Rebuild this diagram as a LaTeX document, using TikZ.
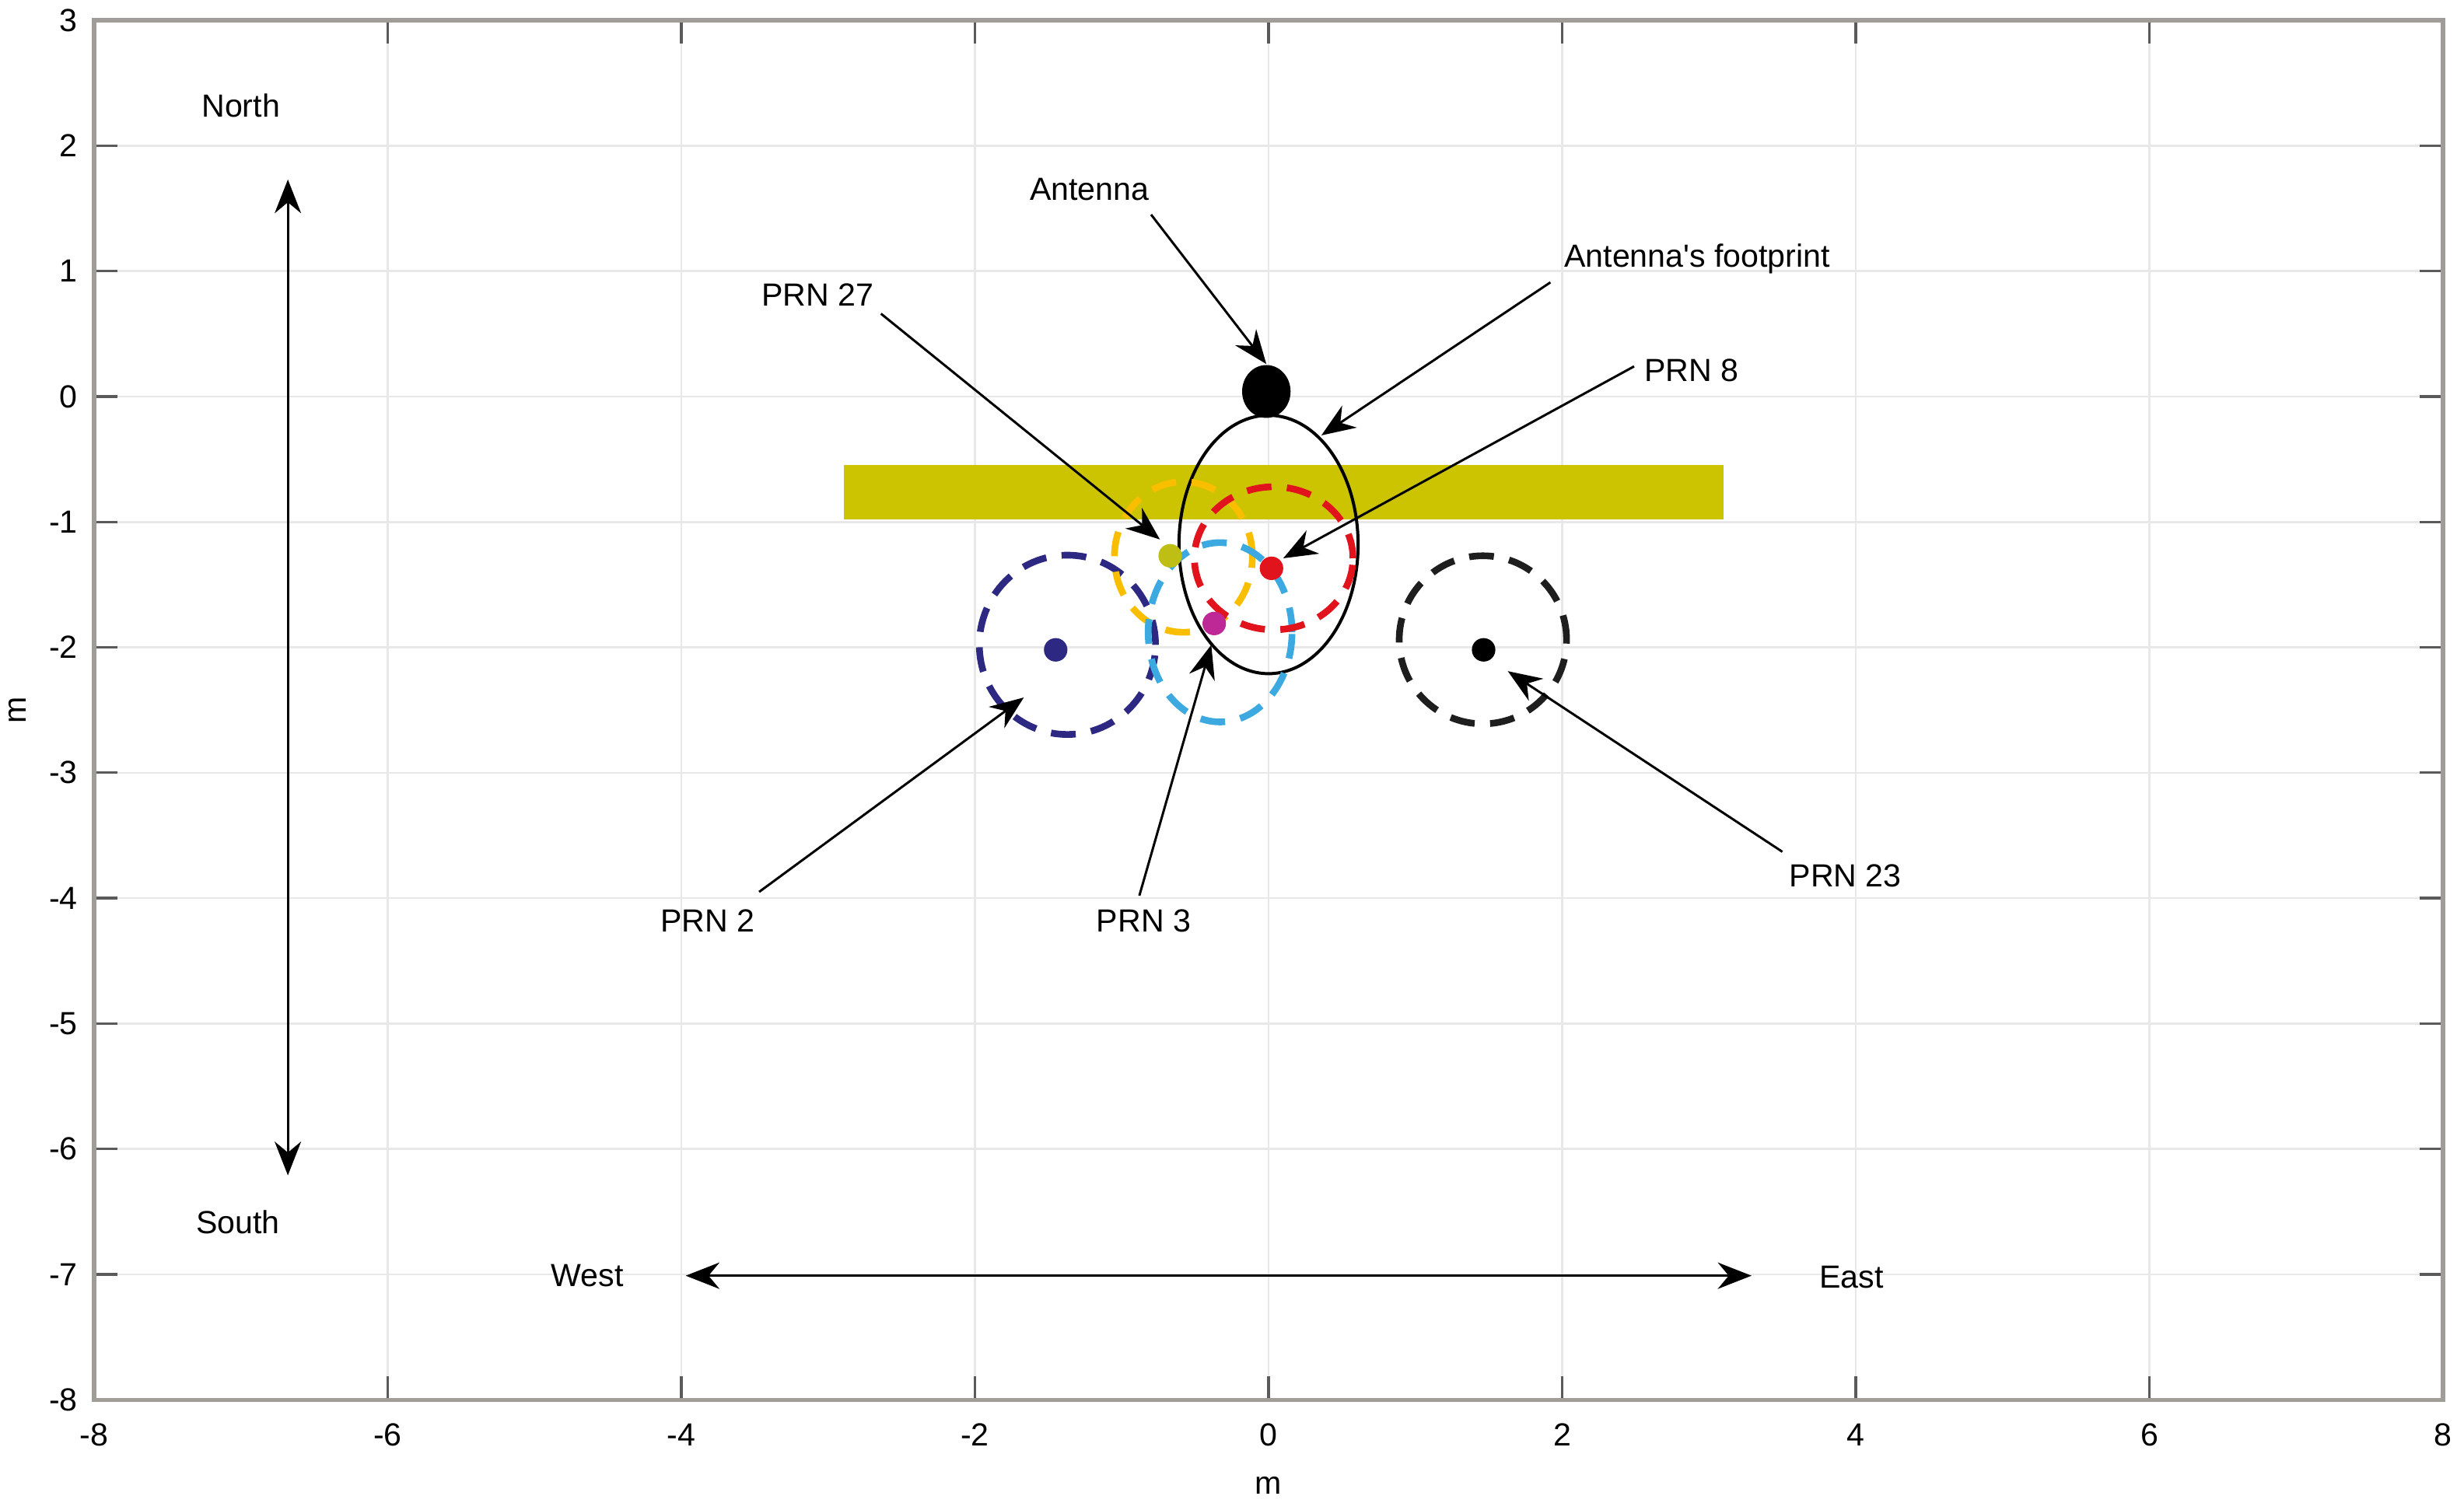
\documentclass[tikz,border=0pt]{standalone}
\usepackage{fontspec}
\setmainfont{Liberation Sans}[Ligatures=TeXOff]
\usetikzlibrary{arrows.meta,positioning,shapes.geometric}

\definecolor{barolive}{RGB}{204,196,0}
\definecolor{gridgray}{RGB}{232,232,232}
\definecolor{boxgray}{RGB}{160,156,152}
\definecolor{tickgray}{RGB}{90,90,90}
\definecolor{prnnavy}{RGB}{45,40,130}
\definecolor{prnsky}{RGB}{60,170,225}
\definecolor{prnred}{RGB}{225,20,30}
\definecolor{prnorange}{RGB}{250,190,0}
\definecolor{prnmag}{RGB}{190,40,150}
\definecolor{prnolive}{RGB}{190,190,20}
\definecolor{prndark}{RGB}{30,30,30}

\tikzset{
  lbl/.style={font=\fontsize{6.2}{7}\selectfont, inner sep=1pt},
  ptr/.style={-{Stealth[length=2.3mm,width=1.8mm]}, line width=0.45pt},
  ring/.style={dash pattern=on 4.8pt off 3pt, line width=1.3pt},
  dot/.style={circle, fill, inner sep=0pt, minimum size=1.6mm},
}

\begin{document}
\begin{tikzpicture}[x=1cm,y=0.8546cm]
\useasboundingbox (-8.641,-8.872) rectangle (8.143,3.161);
\foreach \gx in {-6,-4,...,6} \draw[gridgray,line width=0.4pt] (\gx,-8) -- (\gx,3);
\foreach \gy in {-7,...,2} \draw[gridgray,line width=0.4pt] (-8,\gy) -- (8,\gy);
\foreach \gx in {-6,-4,...,6} {
  \draw[tickgray,line width=0.5pt] (\gx,-8) -- ++(0,0.187);
  \draw[tickgray,line width=0.5pt] (\gx,3) -- ++(0,-0.187);
}
\foreach \gy in {-7,...,2} {
  \draw[tickgray,line width=0.5pt] (-8,\gy) -- ++(0.16,0);
  \draw[tickgray,line width=0.5pt] (8,\gy) -- ++(-0.16,0);
}
\foreach \gx in {-8,-6,...,8} \node[lbl] (xt\gx) at (\gx,-8.28) {\gx};
\foreach \gy in {3,2,...,-8} \node[lbl,anchor=east] (yt\gy) at (-8.07,\gy) {\gy};
\node[lbl] (xlab) at (0,-8.68) {m};
\node[lbl,rotate=90] (ylab) at (-8.52,-2.5) {m};

\fill[barolive] (-2.89,-0.98) rectangle (3.10,-0.545);
\draw[line width=0.6pt] (0,-1.18) ellipse [x radius=0.61, y radius=1.03];

\draw[ring,prnnavy] (-1.37,-1.98) ellipse [x radius=0.6, y radius=0.715];
\draw[ring,prnorange] (-0.58,-1.28) ellipse [x radius=0.47, y radius=0.6];
\draw[ring,prnsky] (-0.33,-1.88) ellipse [x radius=0.49, y radius=0.715];
\draw[ring,prnred] (0.035,-1.29) ellipse [x radius=0.54, y radius=0.57];
\draw[ring,prndark] (1.46,-1.94) ellipse [x radius=0.57, y radius=0.67];

\node[dot,ellipse,minimum width=3.3mm,minimum height=3.6mm,black] (ant) at (-0.015,0.04) {};
\node[dot,prnnavy] (d2) at (-1.45,-2.02) {};
\node[dot,prnolive] (d27) at (-0.67,-1.27) {};
\node[dot,prnmag] (d3) at (-0.37,-1.81) {};
\node[dot,prnred] (d8) at (0.02,-1.37) {};
\node[dot,black] (d23) at (1.465,-2.02) {};

\node[lbl] (antlab) at (-1.22,1.65) {Antenna};
\node[lbl] (fplab) at (2.92,1.10) {Antenna's footprint};
\node[lbl] (lab8) at (2.88,0.21) {PRN 8};
\node[lbl] (lab27) at (-3.07,0.81) {PRN 27};
\node[lbl] (lab2) at (-3.82,-4.18) {PRN 2};
\node[lbl] (lab3) at (-0.85,-4.18) {PRN 3};
\node[lbl] (lab23) at (3.93,-3.82) {PRN 23};

\coordinate (antT) at (-0.80,1.45);
\coordinate (fpT) at (1.92,0.91);
\coordinate (fpH) at (0.36,-0.31);
\coordinate (t8) at (2.49,0.24);
\coordinate (h8) at (0.10,-1.29);
\coordinate (t27) at (-2.64,0.66);
\coordinate (h27) at (-0.74,-1.14);
\coordinate (t2) at (-3.47,-3.95);
\coordinate (h2) at (-1.667,-2.40);
\coordinate (t3) at (-0.88,-3.98);
\coordinate (h3) at (-0.39,-1.98);
\coordinate (t23) at (3.50,-3.63);
\coordinate (h23) at (1.63,-2.19);

\draw[ptr] (antT) -- (ant.north);
\draw[ptr] (fpT) -- (fpH);
\draw[ptr] (t8) -- (h8);
\draw[ptr] (t27) -- (h27);
\draw[ptr] (t2) -- (h2);
\draw[ptr] (t3) -- (h3);
\draw[ptr] (t23) -- (h23);

\node[lbl] (north) at (-7.0,2.32) {North};
\node[lbl] (south) at (-7.02,-6.58) {South};
\node[lbl] (west) at (-4.64,-7.01) {West};
\node[lbl] (east) at (3.97,-7.02) {East};
\coordinate (ntip) at (-6.68,1.73);
\coordinate (stip) at (-6.68,-6.21);
\coordinate (wtip) at (-3.97,-7.01);
\coordinate (etip) at (3.29,-7.01);
\draw[ptr,{Stealth[length=2.3mm,width=1.8mm]}-{Stealth[length=2.3mm,width=1.8mm]}] (ntip) -- (stip);
\draw[ptr,{Stealth[length=2.3mm,width=1.8mm]}-{Stealth[length=2.3mm,width=1.8mm]}] (wtip) -- (etip);

\draw[boxgray,line width=0.8pt] (-8,-8) rectangle (8,3);
\end{tikzpicture}
\end{document}
